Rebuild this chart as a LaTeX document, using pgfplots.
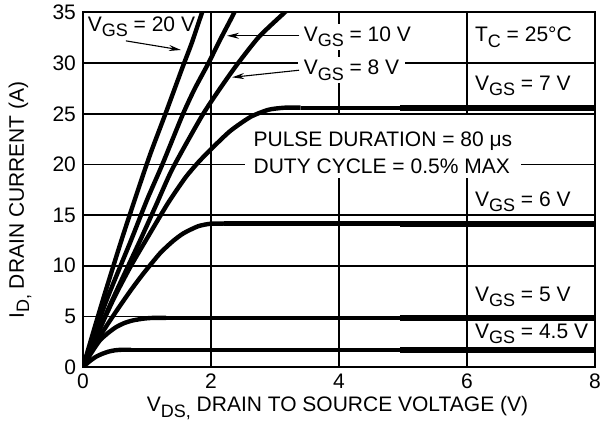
\documentclass[border=0pt]{standalone}
\usepackage{fontspec}
\setmainfont{Liberation Sans}
\usepackage{pgfplots}
\pgfplotsset{compat=1.18}
\usetikzlibrary{arrows.meta,calc}
\newcommand\sub[1]{\raisebox{-2.6pt}{\fontsize{9pt}{9pt}\selectfont #1}}

\begin{document}
\begin{tikzpicture}[font=\fontsize{10.5pt}{12pt}\selectfont]
\begin{axis}[
 name=ax,
 scale only axis, width=256pt, height=177.25pt,
 xmin=0, xmax=8, ymin=0, ymax=35,
 xtick={0,2,4,6,8}, ytick={0,5,10,15,20,25,30,35},
 grid=major, major grid style={line width=0.85pt, black},
 major tick length=0pt,
 axis line style={line width=1pt},
 /pgf/number format/assume math mode=true,
 tick label style={font=\fontsize{10.5pt}{12pt}\selectfont},
 xlabel={V\sub{DS,} DRAIN TO SOURCE VOLTAGE (V)},
 ylabel={I\sub{D,} DRAIN CURRENT (A)},
 xlabel style={at={(axis description cs:0.497,-0.1157)}, anchor=center},
 ylabel style={at={(axis description cs:-0.123,0.471)}, anchor=center},
 cycle list={{black, no markers, solid}},
 every axis plot/.append style={line width=2.2pt, black, no markers, solid},
]
% white box behind pulse text
\fill[white] (axis cs:2.53,18.63) rectangle (axis cs:6.85,24.88);

% VGS = 20 V
\addplot[black, smooth, tension=0.4] coordinates {(0,0) (0.3,6.4) (0.6,12.5) (0.85,17.3) (1.05,21) (1.3,25.2) (1.55,29.5) (1.7,32) (1.86,35) (1.92,36)};
% VGS = 10 V
\addplot[black, smooth, tension=0.4] coordinates {(0,0) (0.35,6.3) (0.75,12.5) (1.0,16.5) (1.24,20) (1.55,24.8) (1.74,27.4) (1.96,30) (2.15,32.4) (2.34,34.7) (2.4,35.5)};
% VGS = 8 V
\addplot[black, smooth, tension=0.4] coordinates {(0,0) (0.45,6.5) (0.9,12.6) (1.15,16.1) (1.4,19.6) (1.85,24.7) (2.12,27.3) (2.4,29.8) (2.75,32.6) (3.15,35) (3.25,35.6)};
% VGS = 7 V
\addplot[black, smooth, tension=0.4] coordinates {(0,0) (0.25,3.6) (0.5,7.0) (0.75,10.0) (1.0,12.7) (1.33,16.2) (1.6,18.7) (1.8,20.2) (2.0,21.5) (2.3,23.3) (2.62,24.7) (2.9,25.4) (3.15,25.6) (3.4,25.6)};
\addplot[black] coordinates {(3.4,25.6) (8,25.6)};
\addplot[black, line width=3pt] coordinates {(4.95,25.6) (8,25.6)};
% VGS = 6 V
\addplot[black, smooth, tension=0.4] coordinates {(0,0) (0.25,2.9) (0.53,5.6) (0.75,7.6) (0.94,9.2) (1.2,11.2) (1.4,12.4) (1.57,13.2) (1.8,13.9) (2.0,14.15) (2.2,14.15)};
\addplot[black] coordinates {(2.2,14.15) (8,14.15)};
\addplot[black, line width=3pt] coordinates {(4.95,14.15) (8,14.15)};
% VGS = 5 V
\addplot[black, smooth, tension=0.4] coordinates {(0,0) (0.1,1.1) (0.26,2.6) (0.4,3.4) (0.52,3.95) (0.65,4.35) (0.78,4.6) (0.95,4.78) (1.1,4.85) (1.3,4.85)};
\addplot[black] coordinates {(1.3,4.85) (8,4.85)};
\addplot[black, line width=3pt] coordinates {(4.95,4.85) (8,4.85)};
% VGS = 4.5 V
\addplot[black, smooth, tension=0.4] coordinates {(0,0) (0.1,0.55) (0.2,1.0) (0.3,1.3) (0.4,1.52) (0.5,1.65) (0.6,1.7) (0.75,1.7)};
\addplot[black] coordinates {(0.75,1.7) (8,1.7)};
\addplot[black, line width=3pt] coordinates {(4.95,1.7) (8,1.7)};

% labels
\node[anchor=base west, inner sep=0pt] at (axis cs:0.07,33.1) {V\sub{GS} = 20 V};
\node[anchor=base west, fill=white, inner xsep=3pt, inner ysep=1.5pt] at (axis cs:3.35,32.11) {V\sub{GS} = 10 V};
\node[anchor=base west, fill=white, inner xsep=3pt, inner ysep=1.5pt] at (axis cs:3.35,28.83) {V\sub{GS} = 8 V};
\draw[line width=0.55pt, -{Stealth[length=6pt,width=3pt]}] (axis cs:0.67,32.2) -- (axis cs:1.53,31.3);
\draw[line width=0.55pt, -{Stealth[length=6pt,width=3pt]}] (axis cs:3.38,32.7) -- (axis cs:2.25,32.7);
\draw[line width=0.55pt, -{Stealth[length=6pt,width=3pt]}] (axis cs:3.375,29.3) -- (axis cs:2.33,28.6);

\node[anchor=base west, inner sep=0pt] at (axis cs:6.12,32.1) {T\sub{C} = 25°C};
\node[anchor=base west, inner sep=0pt] at (axis cs:6.12,27.34) {V\sub{GS} = 7 V};
\node[anchor=base west, inner sep=0pt] at (axis cs:6.12,15.82) {V\sub{GS} = 6 V};
\node[anchor=base west, inner sep=0pt] at (axis cs:6.12,6.45) {V\sub{GS} = 5 V};
\node[anchor=base west, inner sep=0pt] at (axis cs:6.12,2.83) {V\sub{GS} = 4.5 V};

\node[anchor=base west, inner sep=0pt] at (axis cs:2.66,21.75) {PULSE DURATION = 80 μs};
\node[anchor=base west, inner sep=0pt] at (axis cs:2.66,19.12) {DUTY CYCLE = 0.5\% MAX};
\end{axis}
\pgfresetboundingbox
\useasboundingbox ($(ax.south west)+(-41.5pt,-30pt)$) rectangle ($(ax.north east)+(6pt,6.25pt)$);
\end{tikzpicture}
\end{document}
